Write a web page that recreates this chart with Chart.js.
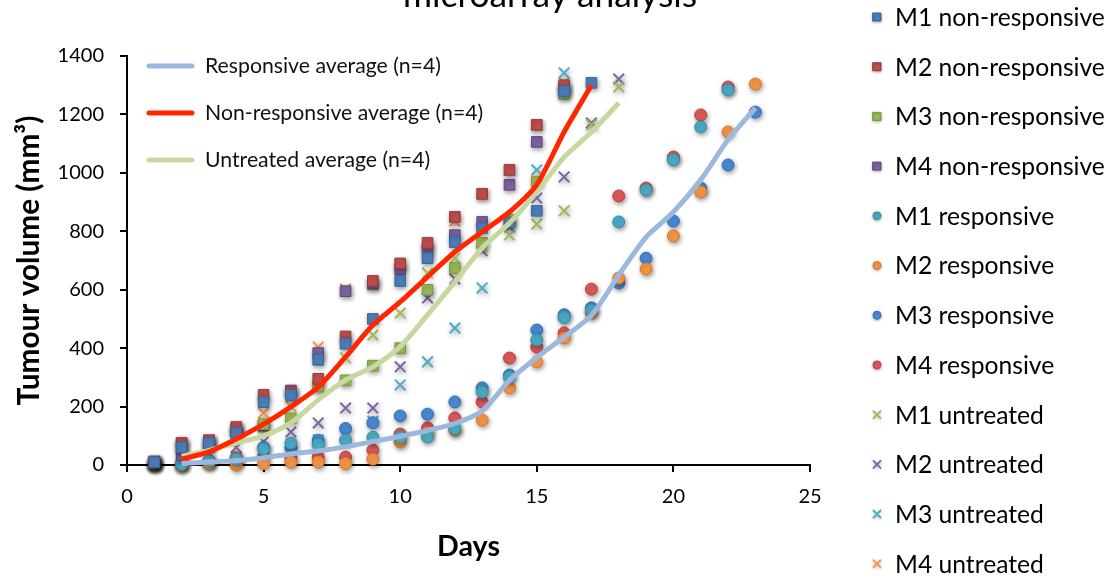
<!DOCTYPE html>
<html><head><meta charset="utf-8">
<script src="https://cdn.jsdelivr.net/npm/chart.js@4/dist/chart.umd.min.js"></script>
<style>html,body{margin:0;padding:0;background:#fff;overflow:hidden}#wrap{position:relative;width:1115px;height:579px}</style>
</head><body><div id="wrap"><canvas id="c" width="1115" height="579"></canvas></div>
<script>
// ---- data (values by day, day 1 onward) ----
const days = [1,2,3,4,5,6,7,8,9,10,11,12,13,14,15,16,17,18,19,20,21,22,23];
const xTicks = [0,5,10,15,20,25];
const yTicks = [0,200,400,600,800,1000,1200,1400];

const nrM1 = [10,60,75,110,215,240,360,415,500,630,708,763,811,830,870,1280,1308];
const nrM2 = [12,75,85,130,240,250,295,440,630,690,760,849,928,1010,1164,1300];
const nrM3 = [8,75,80,125,140,160,270,290,340,400,600,674,760,840,970,1270];
const nrM4 = [10,34,60,115,135,255,383,595,620,670,740,787,832,959,1106,1290];

const rM1 = [5,3,15,20,55,75,70,85,95,95,96,125,250,300,428,505,530,832,941,1045,1157,1284];
const rM2 = [2,0,5,0,5,10,10,5,20,79,110,120,154,264,353,435,520,640,671,784,935,1140,1304];
const rM3 = [5,3,10,15,60,58,85,125,145,168,174,216,264,308,462,514,538,623,708,835,948,1027,1208];
const rM4 = [5,3,15,25,27,24,27,27,51,106,127,161,216,366,404,452,602,921,948,1054,1198,1294];

const uM1 = [10,70,85,110,130,200,265,366,445,520,657,708,745,787,825,870,1165,1294];
const uM2 = [10,7,75,60,80,113,144,195,195,336,572,637,733,815,914,986,1171,1321];
const uM3 = [5,5,10,25,45,70,86,100,150,274,353,469,606,839,1010,1342];
const uM4 = [12,60,85,125,178,233,404,602,616,685,729,835,928,1010,1164,1308];

// averages start at day 2
const respAvg    = [5,10,15,25,38,48,62,80,98,118,142,185,290,368,438,512,650,780,866,976,1113,1222];
const nonRespAvg = [20,45,89,140,199,267,370,479,558,644,729,798,866,960,1140,1300];
const untrAvg    = [30,50,75,100,144,223,291,336,405,514,627,743,828,935,1054,1140,1239];

const markerNames = ['M1 non-responsive','M2 non-responsive','M3 non-responsive','M4 non-responsive',
  'M1 responsive','M2 responsive','M3 responsive','M4 responsive',
  'M1 untreated','M2 untreated','M3 untreated','M4 untreated'];
const lineNames = ['Responsive average (n=4)','Non-responsive average (n=4)','Untreated average (n=4)'];
const titleText = 'microarray analysis';
const xTitle = 'Days';
const yTitle = 'Tumour volume (mm³)';

// ---- build ----
const pts = (arr, start) => arr.map((v,i)=>({x: days[i + start - 1], y: v}));
const FONT = 'Lato, "Open Sans", sans-serif';

const markerDefs = [
  [nrM1,'rect','#4f81bd','#37679f'],[nrM2,'rect','#c0504d','#9e3835'],[nrM3,'rect','#9bbb59','#7a9a3c'],[nrM4,'rect','#8064a2','#5f4983'],
  [rM1,'circle','#4bacc6','#3590a9'],[rM2,'circle','#f79646','#d8792a'],[rM3,'circle','#4a8bd6','#346fb6'],[rM4,'circle','#e05a5a','#bf3f3f'],
  [uM1,'crossRot','#9bbb59','#9bbb59'],[uM2,'crossRot','#8064a2','#8064a2'],[uM3,'crossRot','#4bacc6','#4bacc6'],[uM4,'crossRot','#f79646','#f79646']
];
const lineDefs = [[respAvg,'#9db8dd',5],[nonRespAvg,'#ff2600',5],[untrAvg,'#c6d89f',5]];

const datasets = [];
lineDefs.forEach((d,i)=>datasets.push({
  label: lineNames[i], data: pts(d[0],2), showLine:true, borderColor:d[1], backgroundColor:d[1],
  borderWidth:d[2], pointRadius:0, tension:0.25, clip:false, isLine:true
}));
markerDefs.forEach((d,i)=>datasets.push({
  label: markerNames[i], data: pts(d[0],1), showLine:false, pointStyle:d[1],
  pointRadius: d[1]==='circle'?6:7.5,
  backgroundColor:d[2], borderColor:d[3], borderWidth: d[1]==='crossRot'?2:1,
  clip:false, isMarker:true
}));

const mctx = document.createElement('canvas').getContext('2d');
function fitSize(ctx, text, weight, target){
  ctx.font = weight+' 100px '+FONT;
  return 100*target/ctx.measureText(text).width;
}
const xTitleSize = fitSize(mctx, xTitle, 'bold', 63);
const yTitleSize = fitSize(mctx, yTitle, 'bold', 290);

const shadowPlugin = {
  id:'shadow',
  beforeDatasetDraw(chart,args){
    const ds = chart.data.datasets[args.index];
    const ctx = chart.ctx; ctx.save();
    if (ds.isMarker){ ctx.shadowColor='rgba(0,0,0,0.4)'; ctx.shadowBlur=5; ctx.shadowOffsetX=1; ctx.shadowOffsetY=2; }
  },
  afterDatasetDraw(chart){ chart.ctx.restore(); }
};

function drawMarker(ctx, style, x, y, r, fill, stroke){
  ctx.beginPath();
  if (style==='rect'){ ctx.fillStyle=fill; ctx.strokeStyle=stroke; ctx.lineWidth=1; ctx.rect(x-r,y-r,2*r,2*r); ctx.fill(); ctx.stroke(); }
  else if (style==='circle'){ ctx.fillStyle=fill; ctx.strokeStyle=stroke; ctx.lineWidth=1; ctx.arc(x,y,r,0,Math.PI*2); ctx.fill(); ctx.stroke(); }
  else { ctx.strokeStyle=stroke; ctx.lineWidth=1.8; ctx.moveTo(x-r,y-r); ctx.lineTo(x+r,y+r); ctx.moveTo(x+r,y-r); ctx.lineTo(x-r,y+r); ctx.stroke(); }
}

const legendPlugin = {
  id:'legends',
  afterDraw(chart){
    const ctx = chart.ctx;
    ctx.save();
    // title (cut off at top)
    const ts = fitSize(ctx, titleText, 'normal', 294);
    ctx.font = ts+'px '+FONT; ctx.fillStyle='#000'; ctx.textAlign='center'; ctx.textBaseline='alphabetic';
    ctx.fillText(titleText, 550, 7);
    // inner legend (average lines)
    const widths = [207,293,241];
    let s = 0; lineNames.forEach((t,i)=>{ s += fitSize(ctx,t,'normal',widths[i]); }); s/=3;
    const rows = [66,113,160];
    lineDefs.forEach((d,i)=>{
      ctx.beginPath(); ctx.strokeStyle=d[1]; ctx.lineWidth=d[2]; ctx.lineCap='round';
      ctx.moveTo(149,rows[i]); ctx.lineTo(192,rows[i]); ctx.stroke();
      ctx.font = s+'px '+FONT; ctx.fillStyle='#111'; ctx.textAlign='left'; ctx.textBaseline='middle';
      ctx.fillText(lineNames[i], 205, rows[i]);
    });
    // right legend (markers)
    const rs = fitSize(ctx, markerNames[0], 'normal', 210);
    markerDefs.forEach((d,i)=>{
      const y = 17 + i*49.7;
      ctx.save(); ctx.shadowColor='rgba(0,0,0,0.3)'; ctx.shadowBlur=3; ctx.shadowOffsetY=1;
      drawMarker(ctx, d[1], 877, y, d[1]==='crossRot'?3.5:4, d[2], d[3]);
      ctx.restore();
      ctx.font = rs+'px '+FONT; ctx.fillStyle='#000'; ctx.textAlign='left'; ctx.textBaseline='middle';
      ctx.fillText(markerNames[i], 895, y+1);
    });
    ctx.restore();
  }
};

Chart.defaults.font.family = FONT;
Chart.defaults.color = '#000';

new Chart(document.getElementById('c'), {
  type:'scatter',
  data:{datasets},
  plugins:[shadowPlugin, legendPlugin],
  options:{
    responsive:false, animation:false, devicePixelRatio:1,
    layout:{padding:{left:0,top:56,right:305,bottom:0}},
    plugins:{legend:{display:false}, tooltip:{enabled:false}, title:{display:false}},
    scales:{
      x:{type:'linear', min:0, max:25,
        afterBuildTicks(sc){ sc.ticks = xTicks.map(v=>({value:v})); },
        afterFit(sc){ sc.height = 114; },
        ticks:{font:{size:20}, color:'#000', padding:13, callback:v=>String(v)},
        grid:{drawOnChartArea:false, drawTicks:true, tickLength:7, color:'#000', lineWidth:2},
        border:{display:true, color:'#000', width:2},
        title:{display:true, text:xTitle, font:{size:xTitleSize, weight:'bold'}, color:'#000', padding:{top:0,bottom:15}}
      },
      y:{type:'linear', min:0, max:1400,
        afterBuildTicks(sc){ sc.ticks = yTicks.map(v=>({value:v})); },
        afterFit(sc){ sc.width = 127; },
        ticks:{font:{size:20}, color:'#000', padding:16, callback:v=>String(v)},
        grid:{drawOnChartArea:false, drawTicks:true, tickLength:7, color:'#000', lineWidth:2},
        border:{display:true, color:'#000', width:2},
        title:{display:true, text:yTitle, font:{size:yTitleSize, weight:'bold'}, color:'#000', padding:{top:12,bottom:0}}
      }
    }
  }
});
</script></body></html>
